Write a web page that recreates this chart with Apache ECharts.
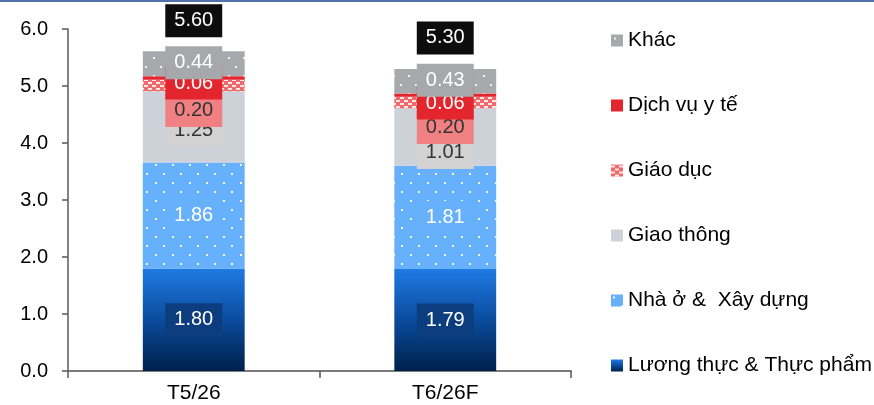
<!DOCTYPE html>
<html>
<head>
<meta charset="utf-8">
<script src="https://cdn.jsdelivr.net/npm/echarts@6/dist/echarts.min.js"></script>
<style>
html,body{margin:0;padding:0;background:#fff;}
#chart{width:874px;height:405px;}
</style>
</head>
<body>
<div id="chart"></div>
<script>
// ---- data ----
const categories = ['T5/26', 'T6/26F'];
const seriesNames = ['Lương thực & Thực phẩm', 'Nhà ở &  Xây dựng', 'Giao thông', 'Giáo dục', 'Dịch vụ y tế', 'Khác'];
const food = [1.80, 1.79];
const housing = [1.86, 1.81];
const transport = [1.25, 1.01];
const education = [0.20, 0.20];
const health = [0.06, 0.06];
const other = [0.44, 0.43];
const totals = [5.60, 5.30];
const yMin = 0, yMax = 6, yStep = 1;

// ---- styling helpers ----
const FONT = '"Liberation Sans", Arial, sans-serif';

function pattern(base, tw, th, draw) {
  const c = document.createElement('canvas');
  c.width = tw; c.height = th;
  const g = c.getContext('2d');
  g.fillStyle = base; g.fillRect(0, 0, tw, th);
  draw(g);
  return { image: c, repeat: 'repeat' };
}
const housingFill = pattern('#66b0fc', 17, 18, g => {
  g.fillStyle = 'rgba(255,255,255,0.9)';
  g.fillRect(2, 2, 2, 2); g.fillRect(10, 11, 2, 2);
});
const otherFill = pattern('#a7a9ac', 15, 18, g => {
  g.fillStyle = 'rgba(255,255,255,0.85)';
  g.fillRect(3, 3, 2, 2); g.fillRect(10, 12, 2, 2);
});
const eduFill = pattern('#f0696b', 8, 6, g => {
  g.fillStyle = 'rgba(255,255,255,0.85)';
  g.fillRect(0, 1, 4, 2); g.fillRect(4, 4, 4, 2);
});
const foodFill = {
  type: 'linear', x: 0, y: 0, x2: 0, y2: 1,
  colorStops: [{ offset: 0, color: '#1f7ae3' }, { offset: 0.5, color: '#0a4c9e' }, { offset: 1, color: '#00204b' }]
};

const fills = [foodFill, housingFill, '#cdd1d8', eduFill, '#e3262e', otherFill];
const labelBg = ['#0c3d7f', '#66b0fc', '#d2d2d2', '#f08082', '#e3262e', '#a6a8ab'];
const labelFg = ['#fff', '#fff', '#333', '#333', '#fff', '#fff'];
const labelNudge = [[0, 0], [0, 0], [3.5, 15.5], [25, 25], [5, 8], [-1, -1]];
const valueSets = [food, housing, transport, education, health, other];

const barSeries = valueSets.map((vals, s) => ({
  name: seriesNames[s],
  type: 'bar',
  stack: 'total',
  barWidth: '40.5%',
  itemStyle: { color: fills[s], opacity: 1 },
  label: {
    show: true,
    position: 'inside',
    formatter: p => p.value.toFixed(2),
    fontFamily: FONT,
    fontSize: 20,
    lineHeight: 21,
    color: labelFg[s],
    backgroundColor: labelBg[s],
    padding: [6, 9]
  },
  emphasis: { disabled: true },
  data: vals.map((v, i) => ({ value: v, label: { offset: [0, labelNudge[s][i]] } }))
}));

const totalSeries = {
  name: 'Tổng',
  type: 'scatter',
  symbolSize: 0,
  itemStyle: { color: 'transparent', opacity: 1 },
  label: {
    show: true,
    position: 'top',
    distance: 14.5,
    formatter: p => p.value[1].toFixed(2),
    fontFamily: FONT,
    fontSize: 20,
    lineHeight: 21,
    color: '#fff',
    opacity: 1,
    backgroundColor: '#0d0d0d',
    padding: [6, 9]
  },
  emphasis: { disabled: true },
  data: totals.map((t, i) => [categories[i], t])
};

const chart = echarts.init(document.getElementById('chart'), null, { renderer: 'canvas' });
chart.setOption({
  animation: false,
  backgroundColor: '#fff',
  grid: { left: 68, right: 303, top: 29, bottom: 34, containLabel: false },
  xAxis: {
    type: 'category',
    data: categories,
    axisLine: { show: true, lineStyle: { color: '#7a7a7a', width: 2 } },
    axisTick: { show: true, length: 7, lineStyle: { color: '#555', width: 1.5 } },
    axisLabel: { color: '#000', fontSize: 21, fontFamily: FONT, margin: 12 },
    splitLine: { show: false }
  },
  yAxis: {
    type: 'value',
    min: yMin, max: yMax, interval: yStep,
    axisLine: { show: true, lineStyle: { color: '#5a5a5a', width: 1.5 } },
    axisTick: { show: true, length: 6, lineStyle: { color: '#5a5a5a', width: 1.5 } },
    axisLabel: { color: '#000', fontSize: 20, fontFamily: FONT, margin: 20, formatter: v => v.toFixed(1) },
    splitLine: { show: false }
  },
  legend: {
    orient: 'vertical',
    left: 611,
    top: 30,
    padding: 0,
    itemGap: 44,
    itemWidth: 12,
    itemHeight: 12,
    icon: 'rect',
    selectedMode: false,
    data: seriesNames.slice().reverse(),
    textStyle: { color: '#000', fontSize: 21, fontFamily: FONT }
  },
  graphic: [{
    type: 'line',
    shape: { x1: 0, y1: 1, x2: 874, y2: 1 },
    style: { stroke: '#4f72a8', lineWidth: 2 },
    silent: true
  }],
  series: barSeries.concat([totalSeries])
});
</script>
</body>
</html>
